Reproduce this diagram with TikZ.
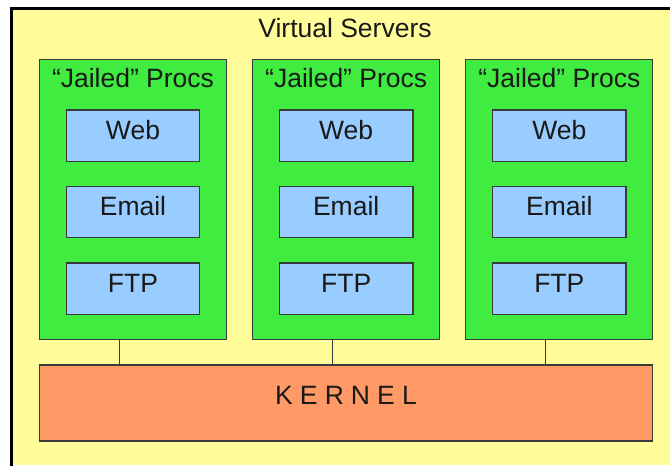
\documentclass[tikz,border=0pt]{standalone}
\usepackage{fontspec}
\setmainfont{Liberation Sans}
\definecolor{bgyellow}{HTML}{FFFC99}
\definecolor{jailgreen}{HTML}{3FEC3F}
\definecolor{svcblue}{HTML}{99CCFF}
\definecolor{kernorange}{HTML}{FF9966}
\definecolor{edge}{HTML}{3A3A3A}
\tikzset{
  txt/.style={font=\fontsize{26.5}{30}\selectfont, text=black!90},
  jail/.style={draw=edge, line width=1.3pt, fill=jailgreen, inner sep=0pt, minimum width=187pt, minimum height=280pt},
  svc/.style={txt, draw=edge, line width=1.3pt, fill=svcblue, inner sep=0pt, minimum width=133.3pt, minimum height=51.5pt, text height=19pt, text depth=12pt},
  kern/.style={txt, draw=edge, line width=1.3pt, fill=kernorange, inner sep=0pt, minimum width=613.4pt, minimum height=76pt, text height=19pt, text depth=17pt},
  title/.style={txt, inner sep=0pt, text height=19pt, text depth=0pt},
  link/.style={draw=edge, line width=1.3pt}
}
\begin{document}
\begin{tikzpicture}[x=1pt, y=-1pt]
\useasboundingbox (0,0) rectangle (670,466);
\fill[white] (0,0) rectangle (670,466);
\fill[bgyellow] (12,8) rectangle (670,465);
\fill[black] (10,7) rectangle (670,9.5);
\fill[black] (10,7) rectangle (13,466);
\node[title] (vs) at (345,27.5) {Virtual Servers};
\foreach \i/\x in {1/133, 2/346.2, 3/559.3} {
  \node[jail] (g\i) at (\x,199.3) {};
  \node[title] (j\i) at (\x,78) {“Jailed” Procs};
  \node[svc] (web\i) at (\x,135.8) {Web};
  \node[svc] (mail\i) at (\x,212) {Email};
  \node[svc] (ftp\i) at (\x,288.7) {FTP};
}
\node[kern] (kernel) at (346,403) {K\kern7.1pt E\kern7.1pt R\kern7.1pt N\kern7.1pt E\kern7.1pt L};
\foreach \i in {1,2,3} {
  \draw[link] ([xshift=-13.5pt]g\i.south) -- ([xshift=-13.5pt]g\i.south |- kernel.north);
}
\end{tikzpicture}
\end{document}
